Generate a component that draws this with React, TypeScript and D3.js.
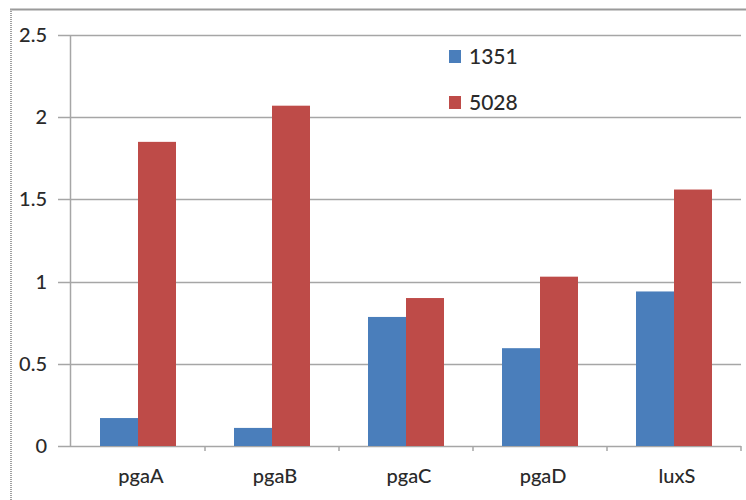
import React from "react";
import * as d3 from "d3";

const categories = ["pgaA", "pgaB", "pgaC", "pgaD", "luxS"];
const series1351 = [0.17, 0.11, 0.785, 0.595, 0.94];
const series5028 = [1.85, 2.07, 0.9, 1.03, 1.56];
const seriesNames = ["1351", "5028"];
const seriesColors = ["#4a7ebb", "#be4b48"];
const yTicks = [0, 0.5, 1, 1.5, 2, 2.5];

const W = 746;
const H = 500;
const M = { left: 71, right: 741, top: 35, bottom: 446 };

export default function App() {
  const x = d3.scaleBand<string>().domain(categories).range([M.left, M.right]).paddingInner(0).paddingOuter(0);
  const y = d3.scaleLinear().domain([0, 2.5]).range([M.bottom, M.top]);
  const barW = 38;
  const seriesData = [series1351, series5028];
  const font = "Lato, 'Open Sans', sans-serif";
  const fmt = (v: number) => (v === 0 ? "0" : String(v));

  return (
    <svg width={W} height={H} style={{ position: "absolute", left: 0, top: 0 }}>
      <rect x={0} y={0} width={W} height={H} fill="#fff" />
      {/* frame */}
      <line x1={10} y1={9.5} x2={W} y2={9.5} stroke="#9a9a9a" strokeWidth={2} />
      <line x1={11} y1={9} x2={11} y2={H} stroke="#a0a0a0" strokeWidth={2} strokeDasharray="1 1" />
      {/* gridlines */}
      {yTicks.map((t) => (
        <line key={t} x1={58} x2={M.right} y1={Math.round(y(t)) + 0.5} y2={Math.round(y(t)) + 0.5} stroke="#a6a6a6" strokeWidth={1.5} />
      ))}
      {/* y axis */}
      <line x1={70.5} x2={70.5} y1={M.top} y2={M.bottom} stroke="#a6a6a6" strokeWidth={1.5} />
      {yTicks.map((t) => (
        <text key={"l" + t} x={47} y={y(t) + 7} textAnchor="end" fontFamily={font} fontSize={20} fontWeight={500} fill="#2a2a2a">
          {fmt(t)}
        </text>
      ))}
      {/* bars */}
      {categories.map((c, i) => {
        const cx = (x(c) as number) + x.bandwidth() / 2;
        return seriesData.map((s, k) => (
          <rect
            key={c + k}
            x={cx - barW + k * barW}
            y={y(s[i])}
            width={barW}
            height={y(0) - y(s[i])}
            fill={seriesColors[k]}
          />
        ));
      })}
      {/* x axis ticks */}
      {categories.map((c) => (
        <line key={"t" + c} x1={(x(c) as number) + x.bandwidth()} x2={(x(c) as number) + x.bandwidth()} y1={M.bottom} y2={M.bottom + 5} stroke="#a6a6a6" strokeWidth={1.5} />
      ))}
      {categories.map((c) => (
        <text key={"c" + c} x={(x(c) as number) + x.bandwidth() / 2 + 3} y={483} textAnchor="middle" fontFamily={font} fontSize={20} fontWeight={500} fill="#2a2a2a">
          {c}
        </text>
      ))}
      {/* legend */}
      {seriesNames.map((n, k) => (
        <g key={n} transform={`translate(449, ${50 + k * 46})`}>
          <rect x={0} y={0} width={12} height={13} fill={seriesColors[k]} />
          <text x={20} y={14} fontFamily={font} fontSize={21} fontWeight={500} fill="#2a2a2a">
            {n}
          </text>
        </g>
      ))}
    </svg>
  );
}
